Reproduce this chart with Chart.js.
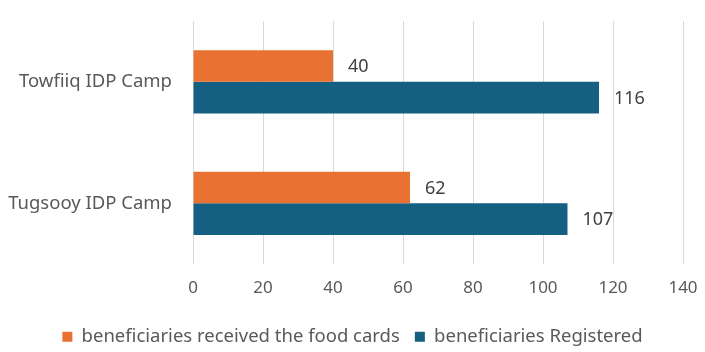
<!DOCTYPE html>
<html>
<head>
<meta charset="utf-8">
<script src="https://cdn.jsdelivr.net/npm/chart.js@4.4.1/dist/chart.umd.min.js"></script>
<style>
  html, body { margin: 0; padding: 0; background: #fff; }
  #wrap { width: 705px; height: 352px; }
</style>
</head>
<body>
<div id="wrap"><canvas id="chart"></canvas></div>
<script>
const camps = ["Towfiiq IDP Camp", "Tugsooy IDP Camp"];
const receivedCards = [40, 62];
const registered = [116, 107];
const xTicks = [0, 20, 40, 60, 80, 100, 120, 140];

const textColor = "#595959";
const fontFamily = "'Noto Sans', 'Liberation Sans', sans-serif";

// writes the value just past the end of each bar
const barValues = {
  id: "barValues",
  afterDatasetsDraw(chart) {
    const ctx = chart.ctx;
    ctx.save();
    ctx.font = "18px " + fontFamily;
    ctx.fillStyle = "#404040";
    ctx.textBaseline = "middle";
    chart.data.datasets.forEach((ds, i) => {
      chart.getDatasetMeta(i).data.forEach((bar, j) => {
        ctx.fillText(ds.data[j], bar.x + 15, bar.y + 1);
      });
    });
    ctx.restore();
  }
};

new Chart(document.getElementById("chart"), {
  type: "bar",
  data: {
    labels: camps,
    datasets: [
      {
        label: "beneficiaries received the food cards",
        data: receivedCards,
        backgroundColor: "#E97132",
        barPercentage: 1,
        categoryPercentage: 0.52
      },
      {
        label: "beneficiaries Registered",
        data: registered,
        backgroundColor: "#156082",
        barPercentage: 1,
        categoryPercentage: 0.52
      }
    ]
  },
  options: {
    indexAxis: "y",
    responsive: true,
    maintainAspectRatio: false,
    animation: false,
    layout: { padding: { top: 21, right: 0, bottom: -4, left: 0 } },
    plugins: {
      tooltip: { enabled: false },
      legend: {
        position: "bottom",
        labels: {
          boxWidth: 10,
          boxHeight: 10,
          padding: 15,
          color: textColor,
          font: { size: 18.5, family: fontFamily }
        }
      }
    },
    scales: {
      x: {
        min: 0,
        max: 140,
        afterBuildTicks(scale) {
          scale.ticks = xTicks.map(v => ({ value: v }));
        },
        afterFit(scale) {
          scale.paddingLeft = 0;
          scale.paddingRight = 22;
        },
        grid: { color: "#d9d9d9", drawTicks: false },
        border: { display: false },
        ticks: {
          padding: 14,
          color: textColor,
          font: { size: 17, family: fontFamily }
        }
      },
      y: {
        afterFit(scale) {
          scale.width = 193;
          scale.paddingTop = 0;
          scale.paddingBottom = 0;
        },
        grid: { display: false, drawTicks: false },
        border: { display: false },
        ticks: {
          padding: 21,
          color: textColor,
          font: { size: 18.5, family: fontFamily }
        }
      }
    }
  },
  plugins: [barValues]
});
</script>
</body>
</html>
